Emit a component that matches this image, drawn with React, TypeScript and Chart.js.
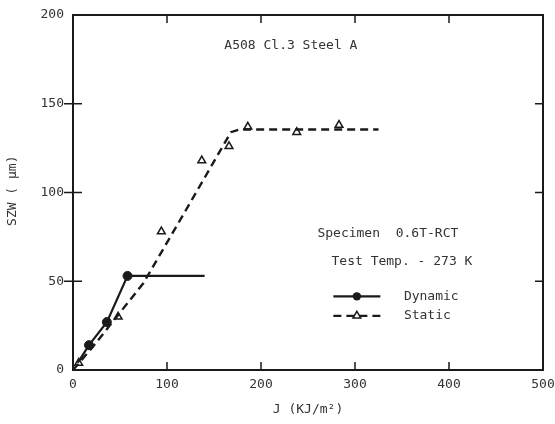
import React, { useEffect, useRef } from "react";
import { Chart, registerables } from "chart.js";

Chart.register(...registerables);

const dynamicPoints = [
  { x: 17, y: 14 },
  { x: 36, y: 27 },
  { x: 58, y: 53 },
];
const dynamicCurve = [
  { x: 5, y: 4 },
  { x: 17, y: 14 },
  { x: 36, y: 27 },
  { x: 58, y: 53 },
  { x: 140, y: 53 },
];
const staticPoints = [
  { x: 6, y: 4 },
  { x: 48, y: 30 },
  { x: 94, y: 78 },
  { x: 137, y: 118 },
  { x: 166, y: 126 },
  { x: 186, y: 137 },
  { x: 238, y: 134 },
  { x: 283, y: 138 },
];
const staticCurve = [
  { x: 0, y: 0 },
  { x: 21, y: 13 },
  { x: 39, y: 25 },
  { x: 75, y: 49 },
  { x: 120, y: 90 },
  { x: 168, y: 134 },
  { x: 177, y: 135.5 },
  { x: 325, y: 135.5 },
];
const xTickValues = [0, 100, 200, 300, 400, 500];
const yTickValues = [0, 50, 100, 150, 200];
const chartTitle = "A508 Cl.3 Steel A";
const noteLines = ["Specimen  0.6T-RCT", "Test Temp. - 273 K"];
const legendLabels = ["Dynamic", "Static"];
const xTitle = "J (KJ/m\u00b2)";
const yTitle = "SZW ( \u03bcm)";

const FONT = "13px 'DejaVu Sans Mono', monospace";
const INK = "#1a1a1a";
const TEXT = "#333";

const framePlugin = {
  id: "frame",
  afterDraw(chart: any) {
    const { ctx, chartArea: a, scales } = chart;
    const xs = scales.x;
    const ys = scales.y;
    ctx.save();
    ctx.strokeStyle = INK;
    ctx.lineWidth = 2;
    ctx.strokeRect(a.left, a.top, a.right - a.left, a.bottom - a.top);
    ctx.lineWidth = 1.5;
    xTickValues.slice(1, -1).forEach((v) => {
      const px = xs.getPixelForValue(v);
      ctx.beginPath();
      ctx.moveTo(px, a.bottom);
      ctx.lineTo(px, a.bottom - 8);
      ctx.moveTo(px, a.top);
      ctx.lineTo(px, a.top + 8);
      ctx.stroke();
    });
    yTickValues.slice(1, -1).forEach((v) => {
      const py = ys.getPixelForValue(v);
      ctx.beginPath();
      ctx.moveTo(a.left - 9, py);
      ctx.lineTo(a.left + 9, py);
      ctx.moveTo(a.right, py);
      ctx.lineTo(a.right - 8, py);
      ctx.stroke();
    });

    ctx.fillStyle = TEXT;
    ctx.font = FONT;
    ctx.textBaseline = "middle";
    ctx.textAlign = "left";
    ctx.fillText(chartTitle, xs.getPixelForValue(161), ys.getPixelForValue(183));
    ctx.fillText(noteLines[0], xs.getPixelForValue(260), ys.getPixelForValue(77));
    ctx.fillText(noteLines[1], xs.getPixelForValue(275), ys.getPixelForValue(61));

    const lx0 = xs.getPixelForValue(277);
    const lx1 = xs.getPixelForValue(327);
    const lxm = (lx0 + lx1) / 2;
    const ly1 = ys.getPixelForValue(41.5);
    const ly2 = ys.getPixelForValue(30.5);
    ctx.strokeStyle = INK;
    ctx.lineWidth = 2.2;
    ctx.beginPath();
    ctx.moveTo(lx0, ly1);
    ctx.lineTo(lx1, ly1);
    ctx.stroke();
    ctx.fillStyle = INK;
    ctx.beginPath();
    ctx.arc(lxm, ly1, 4.2, 0, Math.PI * 2);
    ctx.fill();
    ctx.setLineDash([8, 5]);
    ctx.beginPath();
    ctx.moveTo(lx0, ly2);
    ctx.lineTo(lx1, ly2);
    ctx.stroke();
    ctx.setLineDash([]);
    ctx.fillStyle = "#fff";
    ctx.lineWidth = 1.5;
    const r = 4.5;
    ctx.beginPath();
    ctx.moveTo(lxm, ly2 - r);
    ctx.lineTo(lxm + r * 0.87, ly2 + r * 0.5);
    ctx.lineTo(lxm - r * 0.87, ly2 + r * 0.5);
    ctx.closePath();
    ctx.fill();
    ctx.stroke();
    ctx.fillStyle = TEXT;
    ctx.fillText(legendLabels[0], xs.getPixelForValue(352), ly1);
    ctx.fillText(legendLabels[1], xs.getPixelForValue(352), ly2);

    ctx.textAlign = "center";
    ctx.fillText(xTitle, (a.left + a.right) / 2, 410);
    ctx.translate(13, ys.getPixelForValue(101));
    ctx.rotate(-Math.PI / 2);
    ctx.fillText(yTitle, 0, 0);
    ctx.restore();
  },
};

export default function App() {
  const ref = useRef<HTMLCanvasElement | null>(null);
  useEffect(() => {
    document.body.style.margin = "0";
    if (!ref.current) return;
    const chart = new Chart(ref.current, {
      type: "scatter",
      data: {
        datasets: [
          {
            label: "Static curve",
            data: staticCurve,
            showLine: true,
            borderColor: INK,
            borderWidth: 2.4,
            borderDash: [8, 5],
            pointRadius: 0,
            tension: 0,
          },
          {
            label: "Dynamic curve",
            data: dynamicCurve,
            showLine: true,
            borderColor: INK,
            borderWidth: 2.2,
            pointRadius: 0,
            tension: 0,
          },
          {
            label: "Static",
            data: staticPoints,
            pointStyle: "triangle",
            pointRadius: 4.5,
            backgroundColor: "#fff",
            borderColor: INK,
            borderWidth: 1.5,
          },
          {
            label: "Dynamic",
            data: dynamicPoints,
            pointStyle: "circle",
            pointRadius: 4.5,
            backgroundColor: INK,
            borderColor: INK,
            borderWidth: 1,
          },
        ],
      },
      options: {
        responsive: false,
        animation: false,
        layout: { padding: { top: 15, right: 12, left: 0, bottom: 0 } },
        plugins: { legend: { display: false }, tooltip: { enabled: false } },
        scales: {
          x: {
            type: "linear",
            min: 0,
            max: 500,
            afterBuildTicks: (s: any) => {
              s.ticks = xTickValues.map((v) => ({ value: v }));
            },
            afterFit: (s: any) => {
              s.height = 54;
              s.paddingLeft = 0;
              s.paddingRight = 0;
            },
            grid: { display: false, drawTicks: false },
            border: { display: false },
            ticks: { padding: 7, color: TEXT, font: { family: "'DejaVu Sans Mono', monospace", size: 13 }, maxRotation: 0 },
          },
          y: {
            type: "linear",
            min: 0,
            max: 200,
            afterBuildTicks: (s: any) => {
              s.ticks = yTickValues.map((v) => ({ value: v }));
            },
            afterFit: (s: any) => {
              s.width = 73;
              s.paddingTop = 0;
              s.paddingBottom = 0;
            },
            grid: { display: false, drawTicks: false },
            border: { display: false },
            ticks: { padding: 9, color: TEXT, font: { family: "'DejaVu Sans Mono', monospace", size: 13 } },
          },
        },
      },
      plugins: [framePlugin],
    });
    return () => chart.destroy();
  }, []);
  return (
    <div style={{ width: 555, height: 424, background: "#fff" }}>
      <canvas ref={ref} width={555} height={424} />
    </div>
  );
}
